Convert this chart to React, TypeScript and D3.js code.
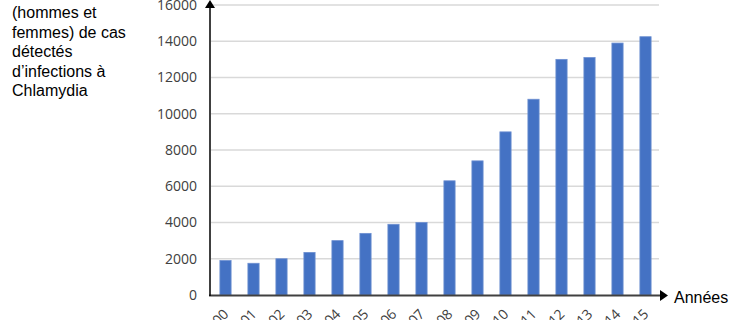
import React from "react";
import * as d3 from "d3";

const years = ["2000","2001","2002","2003","2004","2005","2006","2007","2008","2009","2010","2011","2012","2013","2014","2015"];
const cases = [1900,1750,2000,2350,3000,3400,3900,4000,6300,7400,9000,10800,13000,13100,13900,14250];
const yTicks = [0,2000,4000,6000,8000,10000,12000,14000,16000];
const titleLines = ["(hommes et","femmes) de cas","détectés","d’infections à","Chlamydia"];

export default function App() {
  const W = 736, H = 320;
  const x = d3.scaleBand<string>().domain(years).range([211.5, 659.5]).paddingInner(0.6).paddingOuter(0.3);
  const y = d3.scaleLinear().domain([0, 16000]).range([295, 5]);
  const bw = x.bandwidth();
  return (
    <svg width={W} height={H} style={{ position: "absolute", left: 0, top: 0 }}>
      <rect width={W} height={H} fill="#fff" />
      {titleLines.map((t, i) => (
        <text key={t} x={12} y={18 + i * 19.5} fontFamily="Liberation Sans, Arial, sans-serif" fontSize={16} fill="#000">{t}</text>
      ))}
      {yTicks.filter(v => v > 0).map(v => (
        <line key={v} x1={211} x2={659} y1={y(v)} y2={y(v)} stroke="#d9d9d9" strokeWidth={1.5} />
      ))}
      {yTicks.map(v => (
        <text key={"l" + v} x={197} y={y(v)} dy="0.35em" textAnchor="end" fontFamily="Open Sans, Liberation Sans, sans-serif" fontSize={14} fill="#404040">{v}</text>
      ))}
      {years.map((yr, i) => (
        <rect key={yr} x={x(yr)!} y={y(cases[i])} width={bw} height={y(0) - y(cases[i])} fill="#4472c4" stroke="#6d8fd1" strokeWidth={0.8} />
      ))}
      {years.map(yr => {
        const cx = x(yr)! + bw / 2;
        return (
          <text key={"t" + yr} transform={`translate(${cx + 4},${315}) rotate(-45)`} textAnchor="end" fontFamily="Open Sans, Liberation Sans, sans-serif" fontSize={14} fill="#404040">{yr}</text>
        );
      })}
      <line x1={209} x2={661} y1={295.5} y2={295.5} stroke="#404040" strokeWidth={2} />
      <path d="M660,290 L668,295.5 L660,301 Z" fill="#000" />
      <line x1={210} x2={210} y1={296} y2={6} stroke="#000" strokeWidth={1.5} />
      <path d="M205,8 L210,0 L215,8 Z" fill="#000" />
      <text x={674} y={303} fontFamily="Liberation Sans, Arial, sans-serif" fontSize={16} fill="#000">Années</text>
    </svg>
  );
}
